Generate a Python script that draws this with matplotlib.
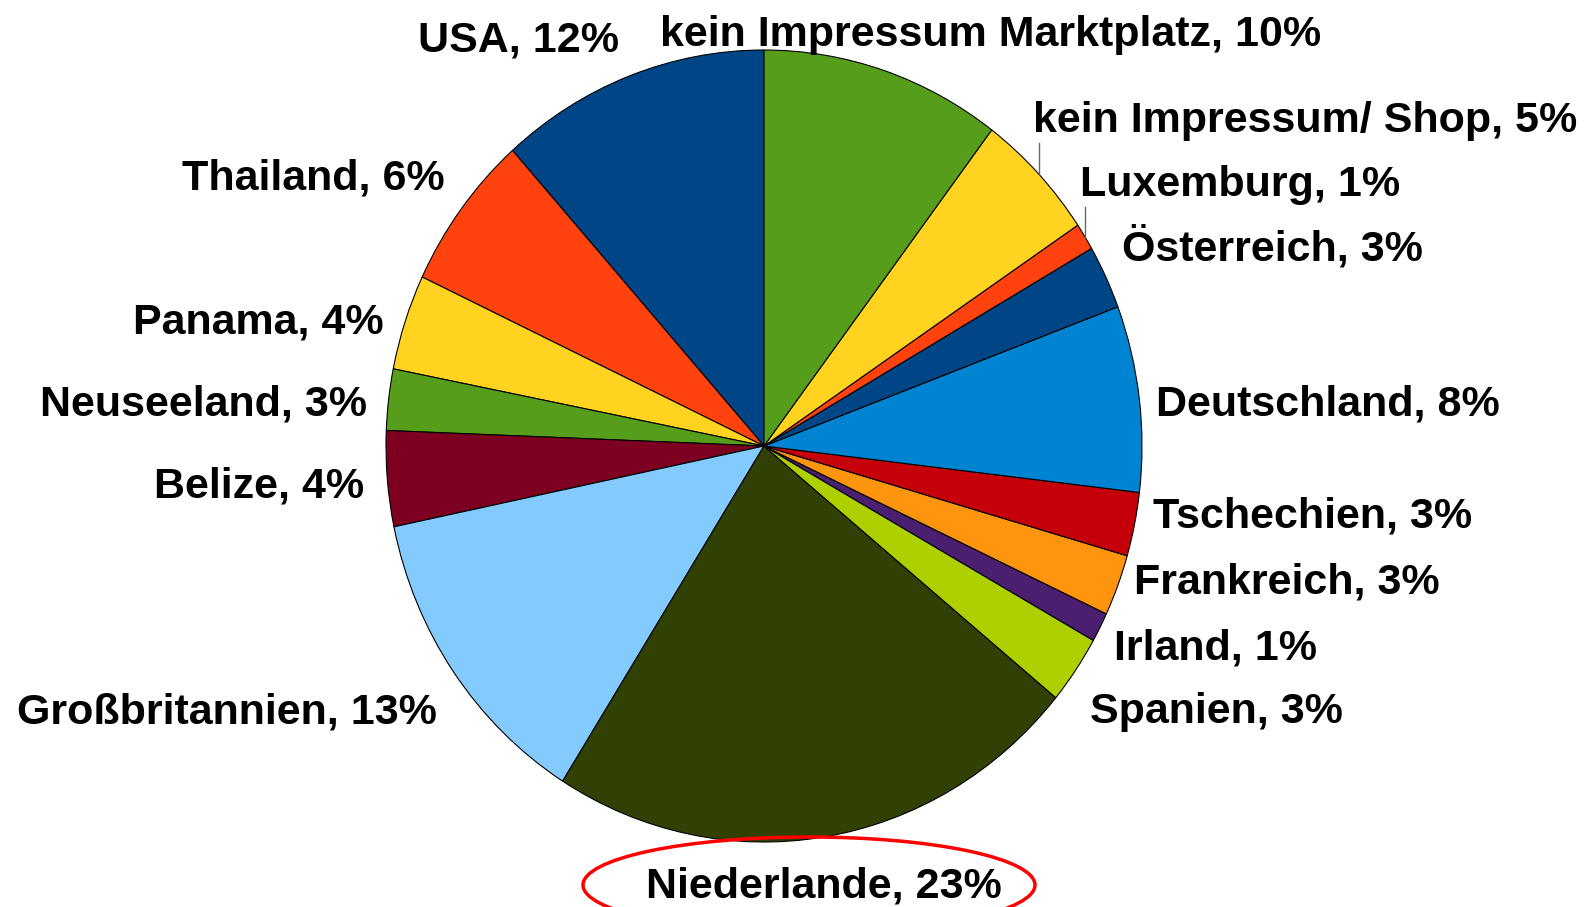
import numpy as np
import matplotlib.pyplot as plt
from matplotlib.patches import Ellipse

# data: slices in the order of the original sheet (counter-clockwise from 12 o'clock)
countries = ['USA', 'Thailand', 'Panama', 'Neuseeland', 'Belize', 'Großbritannien',
             'Niederlande', 'Spanien', 'Irland', 'Frankreich', 'Tschechien',
             'Deutschland', 'Österreich', 'Luxemburg', 'kein Impressum/ Shop',
             'kein Impressum Marktplatz']
shares = [11.6, 6.4, 3.9, 2.5, 3.9, 12.8, 23.0, 2.8, 1.2, 2.5, 2.6, 7.6, 2.6, 1.1, 5.3, 10.3]
shares_shown = [12, 6, 4, 3, 4, 13, 23, 3, 1, 3, 3, 8, 3, 1, 5, 10]

colors = ['#004586', '#ff420e', '#ffd320', '#579d1c', '#7e0021', '#83caff',
          '#314004', '#aecf00', '#4b1f6f', '#ff950e', '#c5000b', '#0084d1',
          '#004586', '#ff420e', '#ffd320', '#579d1c']

W, H = 1586, 907
# label anchors in pixels from top-left: (x, baseline, ha)
label_pos = [(619, 52, 'right'), (445, 189, 'right'), (384, 333, 'right'),
             (367, 415, 'right'), (364, 498, 'right'), (437, 724, 'right'),
             (824, 898, 'center'), (1090, 723, 'left'), (1114, 660, 'left'),
             (1134, 594, 'left'), (1153, 528, 'left'), (1156, 415, 'left'),
             (1122, 260, 'left'), (1080, 196, 'left'), (1033, 132, 'left'),
             (991, 46, 'center')]
leader_top = {'kein Impressum/ Shop': 143, 'Luxemburg': 207}

cx, cy, rx, ry = 764, 446, 378, 396


def frac(x, y):
    return x / W, 1 - y / H


fig = plt.figure(figsize=(W / 100, H / 100), dpi=100)
ax = fig.add_axes([(cx - rx) / W, (H - cy - ry) / H, 2 * rx / W, 2 * ry / H])

wedges, _ = ax.pie(shares, colors=colors, startangle=90, counterclock=True,
                   wedgeprops=dict(edgecolor='black', linewidth=0.8))
ax.set_aspect('auto')
ax.set_xlim(-1, 1)
ax.set_ylim(-1, 1)

for name, pct, (x, y, ha) in zip(countries, shares_shown, label_pos):
    fx, fy = frac(x, y)
    fig.text(fx, fy, f'{name}, {pct}%', ha=ha, va='baseline',
             fontsize=31, fontweight='bold', family='Liberation Sans')

# leader lines for the two small slices at the top right
for w, name in zip(wedges, countries):
    if name in leader_top:
        mid = np.deg2rad((w.theta1 + w.theta2) / 2)
        x0, y0 = np.cos(mid), np.sin(mid)
        y1 = (cy - leader_top[name]) / ry
        ax.plot([x0, x0], [y0, y1], color='#666666', lw=1, clip_on=False)

# red ring around the Netherlands label
ex, ey = frac(809, 885)
fig.add_artist(Ellipse((ex, ey), 452 / W, 96 / H, transform=fig.transFigure,
                       fill=False, edgecolor='red', linewidth=2.5))

fig.savefig('out.png', dpi=100)
